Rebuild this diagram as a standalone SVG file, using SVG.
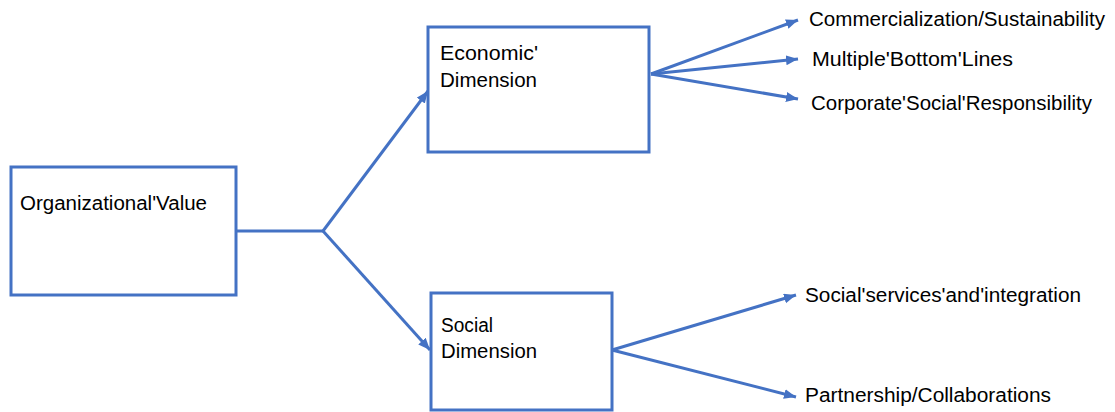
<svg xmlns="http://www.w3.org/2000/svg" width="1115" height="412" viewBox="0 0 1115 412">
<defs>
<style>
.box{fill:#fff;stroke:#4472C4;stroke-width:3}
.ln{fill:none;stroke:#4472C4;stroke-width:3}
.t{font-family:"Liberation Sans",Arial,sans-serif;font-size:20px;fill:#000}
</style>
<marker id="ah" markerUnits="userSpaceOnUse" markerWidth="14" markerHeight="12" refX="12" refY="5" orient="auto">
<path d="M0,0 L12,5 L0,10 Z" fill="#4472C4"/>
</marker>
</defs>
<g id="connectors">
<polyline class="ln" points="236,231 323,231"/>
<line class="ln" x1="323" y1="231" x2="428" y2="91" marker-end="url(#ah)"/>
<line class="ln" x1="323" y1="231" x2="430" y2="350" marker-end="url(#ah)"/>
<line class="ln" x1="651" y1="74" x2="798" y2="20" marker-end="url(#ah)"/>
<line class="ln" x1="651" y1="74" x2="798" y2="59" marker-end="url(#ah)"/>
<line class="ln" x1="651" y1="74" x2="798" y2="99" marker-end="url(#ah)"/>
<line class="ln" x1="612" y1="350" x2="796" y2="295" marker-end="url(#ah)"/>
<line class="ln" x1="612" y1="350" x2="796" y2="397" marker-end="url(#ah)"/>
</g>
<g id="org">
<rect class="box" x="11" y="167" width="225" height="128"/>
<text class="t" x="20" y="210" textLength="187" lengthAdjust="spacingAndGlyphs">Organizational'Value</text>
</g>
<g id="econ">
<rect class="box" x="428" y="27" width="221" height="125"/>
<text class="t" x="440" y="60" textLength="98" lengthAdjust="spacingAndGlyphs">Economic'</text>
<text class="t" x="440" y="87" textLength="97" lengthAdjust="spacingAndGlyphs">Dimension</text>
</g>
<g id="social">
<rect class="box" x="431" y="293" width="181" height="117"/>
<text class="t" x="441" y="332" textLength="52" lengthAdjust="spacingAndGlyphs">Social</text>
<text class="t" x="441" y="358" textLength="96" lengthAdjust="spacingAndGlyphs">Dimension</text>
</g>
<g id="commercialization"><text class="t" x="809" y="26" textLength="296" lengthAdjust="spacingAndGlyphs">Commercialization/Sustainability</text></g>
<g id="multiple"><text class="t" x="812" y="66" textLength="201" lengthAdjust="spacingAndGlyphs">Multiple'Bottom'Lines</text></g>
<g id="csr"><text class="t" x="811" y="110" textLength="281" lengthAdjust="spacingAndGlyphs">Corporate'Social'Responsibility</text></g>
<g id="services"><text class="t" x="805" y="302" textLength="276" lengthAdjust="spacingAndGlyphs">Social'services'and'integration</text></g>
<g id="partnership"><text class="t" x="805" y="402" textLength="246" lengthAdjust="spacingAndGlyphs">Partnership/Collaborations</text></g>
</svg>
